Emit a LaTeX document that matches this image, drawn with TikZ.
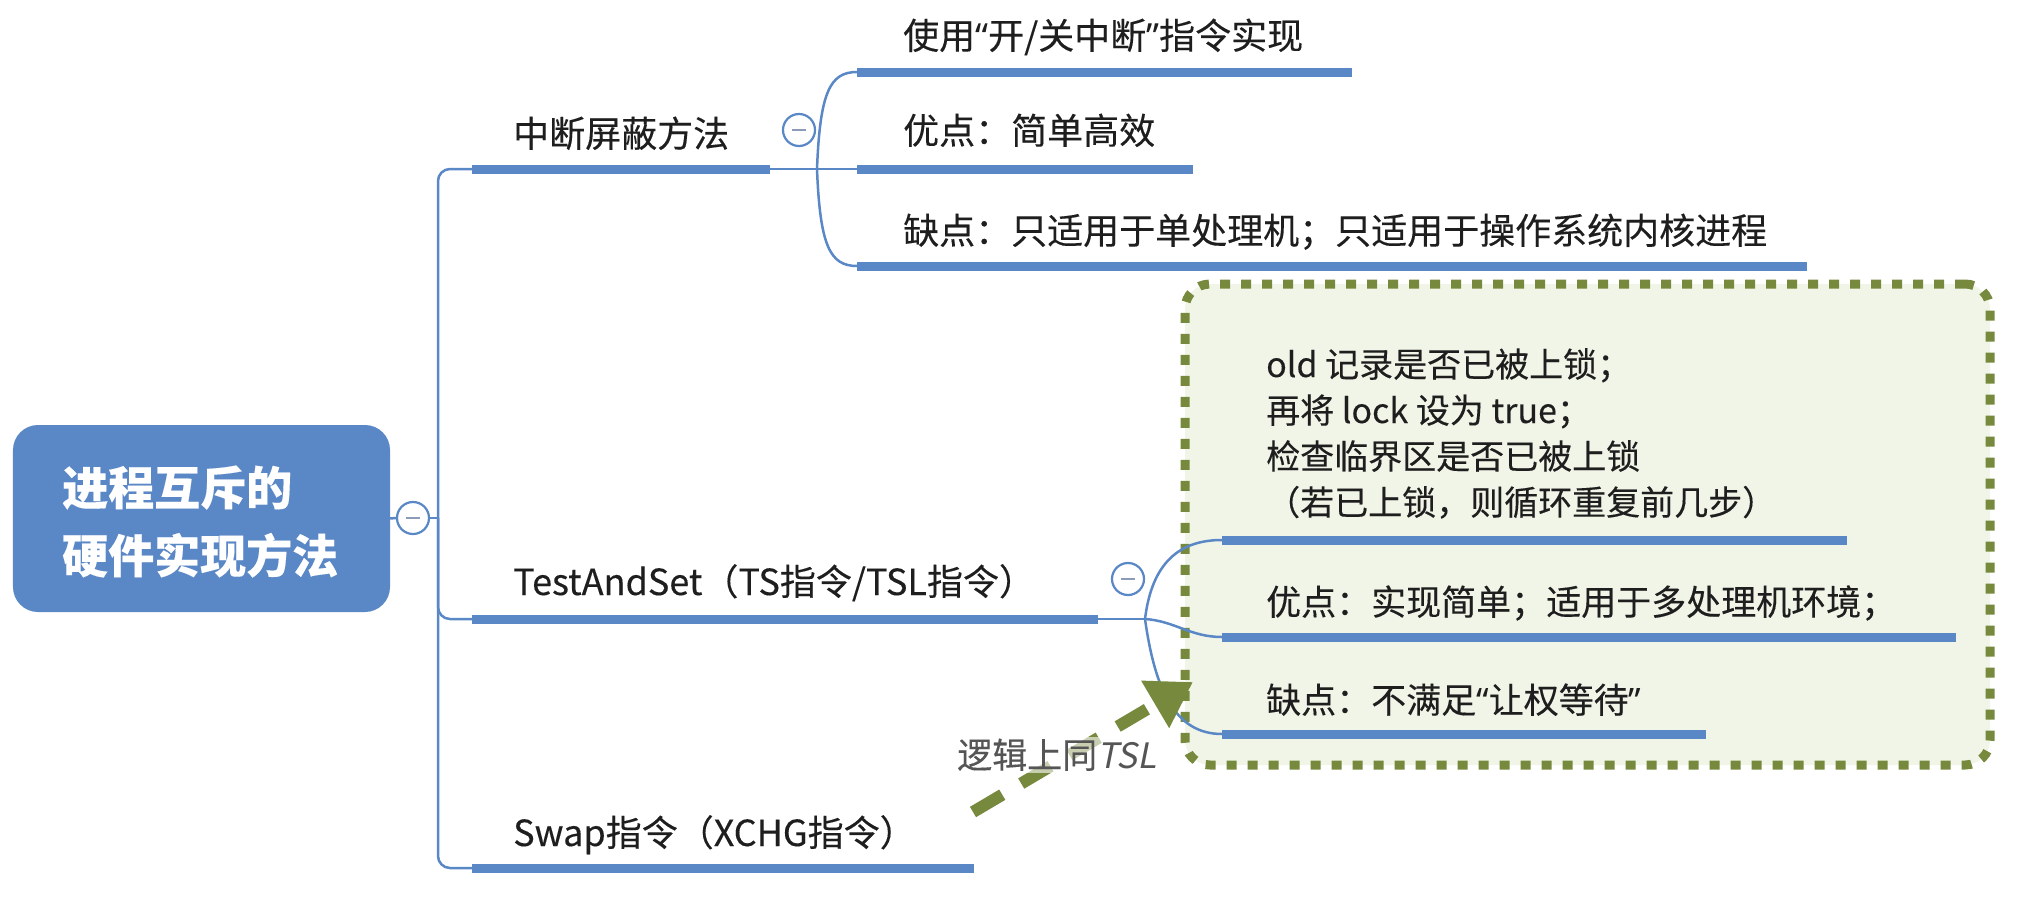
\documentclass[tikz,border=0pt]{standalone}
\usepackage{fontspec}
\setmainfont{Noto Sans CJK SC}[FakeBold=0.25]
\newfontfamily\slantfont[FakeSlant=0.2]{Noto Sans CJK SC}
\newfontfamily\qfont{Noto Sans}
\newcommand{\oq}{{\qfont “}}
\newcommand{\cq}{{\qfont ”}}
\usetikzlibrary{arrows.meta}
\definecolor{mmblue}{HTML}{5A87C6}
\definecolor{boxfill}{HTML}{F1F5E8}
\definecolor{boxgreen}{HTML}{76893D}
\definecolor{txtc}{HTML}{1E1E1E}
\definecolor{minusc}{HTML}{8C9BB8}
\definecolor{lblgray}{HTML}{555555}
\tikzset{
  lbl/.style={anchor=base west, inner sep=0pt, text=txtc, font=\fontsize{35bp}{42bp}\selectfont},
  lblg/.style={anchor=base west, inner sep=0pt, text=txtc, font=\fontsize{36bp}{42bp}\selectfont},
  boxlbl/.style={anchor=base west, inner sep=0pt, text=txtc, font=\fontsize{34bp}{40bp}\selectfont},
  roottxt/.style={anchor=base west, inner sep=0pt, text=white, font=\fontsize{46bp}{54bp}\selectfont\bfseries},
  rootbox/.style={fill=mmblue, rounded corners=25bp, inner sep=0pt, minimum width=377bp, minimum height=187bp},
  uline/.style={mmblue, line width=9bp},
  thin/.style={mmblue, line width=2.5bp},
  circ/.style={circle, draw=mmblue, line width=2.2bp, fill=white, minimum size=32bp, inner sep=0pt,
    path picture={\draw[minusc, line width=2.5bp] ([xshift=-7bp]path picture bounding box.center) -- ([xshift=7bp]path picture bounding box.center);}},
  tsbox/.style={draw=boxgreen, fill=boxfill, line width=9bp, dash pattern=on 10bp off 11bp, rounded corners=25bp, inner sep=0pt, minimum width=805bp, minimum height=481bp},
  garrow/.style={boxgreen, line width=12bp, dash pattern=on 34bp off 22bp, -{Triangle[length=44bp, width=52bp]}},
  lblnode/.style={anchor=base west, inner sep=2bp, fill=white, fill opacity=0.6, text opacity=1, text=lblgray, font=\fontsize{35bp}{42bp}\selectfont},
}
\begin{document}
\begin{tikzpicture}[x=1bp, y=-1bp]
\useasboundingbox (0,0) rectangle (2033,915);

% dotted box (behind)
\node[tsbox] (box) at (1587.5,524.5) {};

% root
\node[rootbox] (root) at (201.5,518.5) {};
\node[roottxt] (root1) at (62,505) {进程互斥的};
\node[roottxt] (root2) at (62,573) {硬件实现方法};
\node[circ] (c0) at (413,518) {};
\coordinate (trunk) at (438,518);
\draw[thin] (root.east) -- (c0.west);
\draw[thin] (c0.east) -- (trunk);

% trunk and top-level branches
\coordinate (b1s) at (472,169);
\coordinate (b1e) at (770,169);
\coordinate (b2s) at (472,619);
\coordinate (b2e) at (1098,619);
\coordinate (b3s) at (472,868);
\coordinate (b3e) at (974,868);
\draw[thin, rounded corners=12bp] (b1s) -| (trunk) |- (b3s);
\draw[thin, rounded corners=12bp] (trunk) |- (b2s);
\draw[uline] (b1s) -- (b1e);
\draw[uline] (b2s) -- (b2e);
\draw[uline] (b3s) -- (b3e);
\node[lblg] (t1) at (513,147) {中断屏蔽方法};
\node[lblg] (t2) at (513,595) {TestAndSet（TS指令/TSL指令）};
\node[lblg] (t3) at (513,846) {Swap指令（XCHG指令）};

% group 1
\node[circ] (c1) at (799,130) {};
\coordinate (f1) at (817,169);
\draw[thin] (b1e) -- (f1);
\coordinate (g1as) at (857,72);  \coordinate (g1ae) at (1352,72);
\coordinate (g1bs) at (857,169); \coordinate (g1be) at (1193,169);
\coordinate (g1cs) at (857,266); \coordinate (g1ce) at (1807,266);
\draw[thin] (f1) .. controls (820,92) and (830,72) .. (g1as);
\draw[thin] (f1) -- (g1bs);
\draw[thin] (f1) .. controls (820,246) and (830,266) .. (g1cs);
\draw[uline] (g1as) -- (g1ae);
\draw[uline] (g1bs) -- (g1be);
\draw[uline] (g1cs) -- (g1ce);
\node[lblg] (g1a) at (903,49) {使用\oq 开/关中断\cq 指令实现};
\node[lblg] (g1b) at (903,144) {优点：简单高效};
\node[lblg] (g1c) at (903,244) {缺点：只适用于单处理机；只适用于操作系统内核进程};

% group 2
\node[circ] (c2) at (1128,579) {};
\coordinate (f2) at (1145,619);
\draw[thin] (b2e) -- (f2);
\coordinate (g2as) at (1222,540); \coordinate (g2ae) at (1847,540);
\coordinate (g2bs) at (1222,637); \coordinate (g2be) at (1956,637);
\coordinate (g2cs) at (1222,734); \coordinate (g2ce) at (1706,734);
\draw[thin] (f2) .. controls (1152,562) and (1180,540) .. (g2as);
\draw[thin] (f2) .. controls (1175,621) and (1190,637) .. (g2bs);
\draw[thin] (f2) .. controls (1155,690) and (1175,734) .. (g2cs);
\draw[uline] (g2as) -- (g2ae);
\draw[uline] (g2bs) -- (g2be);
\draw[uline] (g2cs) -- (g2ce);
\node[boxlbl] (g2a1) at (1266,377) {old 记录是否已被上锁；};
\node[boxlbl] (g2a2) at (1266,423) {再将 lock 设为 true；};
\node[boxlbl] (g2a3) at (1266,469) {检查临界区是否已被上锁};
\node[boxlbl] (g2a4) at (1266,515) {（若已上锁，则循环重复前几步）};
\node[lbl] (g2b) at (1266,615) {优点：实现简单；适用于多处理机环境；};
\node[lbl] (g2c) at (1266,713) {缺点：不满足\oq 让权等待\cq};

% green arrow
\coordinate (aS) at (973,812);
\coordinate (aT) at (1193,682);
\draw[garrow] (aS) -- (aT);
\node[lblnode] (lab) at (955,768) {逻辑上同{\slantfont TSL}};
\end{tikzpicture}
\end{document}
